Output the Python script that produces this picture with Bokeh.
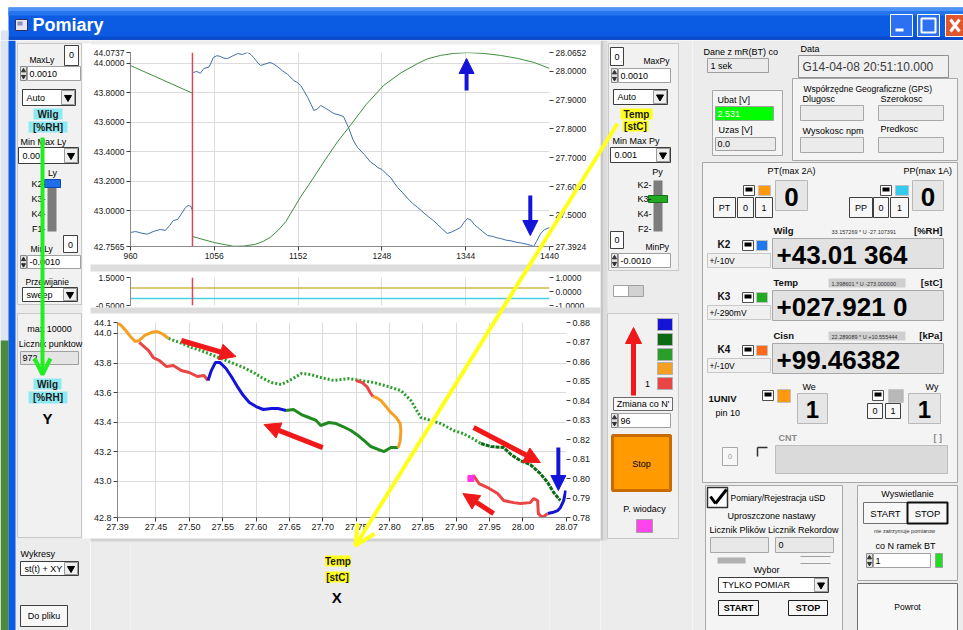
from bokeh.plotting import figure
from bokeh.layouts import row, column
from bokeh.models import (Range1d, LinearAxis, FixedTicker, PrintfTickFormatter, Arrow,
                          NormalHead, OpenHead, Span, ColumnDataSource)
from bokeh.embed import file_html
from bokeh.resources import INLINE

FONT = "Liberation Sans"
BG = "#ECECEC"

# ------------------------------------------------------------------ data
# top chart: sweep display, cursor at sample 1031
t_ticks = [960, 1056, 1152, 1248, 1344, 1440]
wilg_ticks = [42.7565, 43.0, 43.2, 43.4, 43.6, 43.8, 44.0, 44.0737]
temp_ticks = [27.3924, 27.5, 27.6, 27.7, 27.8, 27.9, 28.0, 28.0652]
sweep_pos = 1031

wilg_new_x = [960, 966, 972, 979, 986, 994, 1000, 1005, 1009, 1014, 1018, 1023, 1026, 1029, 1031]
wilg_new_y = [42.852, 42.858, 42.848, 42.840, 42.858, 42.872, 42.866, 42.900, 42.933, 42.940,
              42.975, 43.021, 43.035, 43.030, 43.001]
wilg_old_x = [1032, 1036, 1040, 1044, 1050, 1055, 1059, 1063, 1067, 1071, 1077, 1083, 1088, 1094,
              1098, 1101, 1105, 1109, 1114, 1120, 1124, 1128, 1134, 1140, 1147, 1151, 1155, 1159,
              1163, 1167, 1170, 1174, 1178, 1185, 1193, 1199, 1204, 1210, 1215, 1220, 1228, 1235,
              1240, 1243, 1248, 1252, 1258, 1262, 1266, 1272, 1278, 1283, 1289, 1295, 1301, 1307,
              1313, 1318, 1323, 1328, 1333, 1338, 1342, 1346, 1350, 1354, 1358, 1363, 1369, 1375,
              1380, 1384, 1390, 1396, 1403, 1408, 1414, 1418, 1422, 1425, 1430, 1434, 1440]
wilg_old_y = [43.938, 43.945, 43.932, 43.965, 43.975, 44.040, 44.052, 44.047, 44.035, 44.033,
              44.050, 44.067, 44.060, 44.074, 44.060, 44.040, 44.010, 43.985, 43.995, 44.006,
              43.995, 43.979, 43.950, 43.925, 43.884, 43.870, 43.850, 43.810, 43.768, 43.720,
              43.680, 43.690, 43.714, 43.690, 43.659, 43.650, 43.639, 43.560, 43.480, 43.429,
              43.380, 43.330, 43.310, 43.293, 43.280, 43.255, 43.225, 43.190, 43.157, 43.120,
              43.080, 43.050, 43.021, 42.990, 42.960, 42.933, 42.900, 42.870, 42.845, 42.855,
              42.870, 42.885, 42.920, 42.947, 42.935, 42.905, 42.885, 42.860, 42.831, 42.825,
              42.815, 42.811, 42.800, 42.795, 42.784, 42.780, 42.772, 42.765, 42.757, 42.790,
              42.845, 42.870, 42.885]
temp_new_x = [960, 1031]
temp_new_y = [28.020, 27.924]
temp_old_x = [1031, 1056, 1078, 1090, 1103, 1112, 1120, 1129, 1138, 1146, 1155, 1169, 1183, 1197,
              1212, 1230, 1250, 1270, 1289, 1300, 1315, 1330, 1346, 1365, 1384, 1403, 1422, 1440]
temp_old_y = [27.427, 27.406, 27.393, 27.394, 27.400, 27.410, 27.424, 27.448, 27.479, 27.520,
              27.565, 27.628, 27.693, 27.755, 27.813, 27.885, 27.951, 27.995, 28.027, 28.043,
              28.055, 28.062, 28.065, 28.062, 28.055, 28.045, 28.031, 28.010]

# strip chart levels
strip_ticks_l = [-0.5, 1.5]
strip_ticks_r = [-1.0, 0.0, 1.0]
strip_level_yellow = 0.75
strip_level_cyan = 0.0

# XY chart (x = Temp [stC], y = Wilg [%RH])
xy_t_ticks = [27.3924, 27.45, 27.50, 27.55, 27.60, 27.65, 27.70, 27.75, 27.80, 27.85, 27.90,
              27.95, 28.00, 28.0652]
xy_w_ticks = [42.7565, 43.0, 43.2, 43.4, 43.6, 43.8, 44.0, 44.0737]
xy_r_ticks = [0.78, 0.79, 0.80, 0.81, 0.82, 0.83, 0.84, 0.85, 0.86, 0.87, 0.88]

orange_a_t = [27.392, 27.398, 27.406, 27.413, 27.419, 27.425, 27.433, 27.443, 27.452, 27.461, 27.469]
orange_a_w = [44.074, 44.053, 44.013, 43.972, 43.945, 43.952, 43.986, 44.006, 44.013, 43.993, 43.966]
red_a_t = [27.425, 27.439, 27.446, 27.455, 27.466, 27.476, 27.488, 27.500, 27.512, 27.522, 27.528]
red_a_w = [43.939, 43.884, 43.837, 43.817, 43.776, 43.783, 43.749, 43.736, 43.709, 43.716, 43.682]
blue_a_t = [27.528, 27.533, 27.539, 27.546, 27.555, 27.563, 27.572, 27.581, 27.590, 27.600,
            27.611, 27.623, 27.633, 27.645]
blue_a_w = [43.682, 43.749, 43.803, 43.803, 43.763, 43.709, 43.641, 43.580, 43.533, 43.506,
            43.486, 43.493, 43.493, 43.479]
dkgreen_a_t = [27.645, 27.656, 27.668, 27.679, 27.690, 27.697, 27.709, 27.720, 27.730, 27.742,
               27.753, 27.762, 27.772, 27.783, 27.792, 27.802, 27.813]
dkgreen_a_w = [43.479, 43.486, 43.452, 43.432, 43.412, 43.378, 43.398, 43.391, 43.371, 43.344,
               43.310, 43.276, 43.236, 43.216, 43.202, 43.229, 43.229]
orange_b_t = [27.813, 27.816, 27.817, 27.816, 27.810, 27.802, 27.796, 27.787, 27.780, 27.775]
orange_b_w = [43.229, 43.276, 43.344, 43.391, 43.432, 43.466, 43.499, 43.547, 43.567, 43.574]
red_b_t = [27.775, 27.771, 27.766, 27.759, 27.750]
red_b_w = [43.574, 43.601, 43.641, 43.668, 43.682]
green_dots_t = [27.469, 27.485, 27.503, 27.518, 27.536, 27.551, 27.566, 27.581, 27.596, 27.611,
                27.623, 27.638, 27.653, 27.668, 27.682, 27.697, 27.717, 27.738, 27.757, 27.777,
                27.798, 27.817, 27.832, 27.847, 27.862, 27.877, 27.896, 27.910, 27.922, 27.937]
green_dots_w = [43.966, 43.939, 43.905, 43.884, 43.851, 43.824, 43.797, 43.770, 43.736, 43.695,
                43.668, 43.655, 43.689, 43.729, 43.722, 43.702, 43.682, 43.695, 43.682, 43.668,
                43.641, 43.614, 43.547, 43.432, 43.412, 43.391, 43.344, 43.324, 43.297, 43.256]
dkgreen_dots_t = [27.937, 27.952, 27.971, 27.982, 27.996, 28.011, 28.026, 28.037, 28.046, 28.056]
dkgreen_dots_w = [43.256, 43.236, 43.229, 43.182, 43.141, 43.114, 43.053, 42.993, 42.925, 42.871]
blue_b_t = [28.037, 28.044, 28.052, 28.056, 28.061, 28.064]
blue_b_w = [42.783, 42.790, 42.803, 42.823, 42.871, 42.939]
red_c_t = [27.922, 27.926, 27.934, 27.947, 27.962, 27.971, 27.986, 27.996, 28.011, 28.016,
           28.022, 28.023, 28.029, 28.037]
red_c_w = [43.020, 43.040, 42.986, 42.959, 42.918, 42.871, 42.857, 42.851, 42.857, 42.885,
           42.871, 42.783, 42.756, 42.783]
lead_t = [27.922]
lead_w = [43.020]

# direction arrows in the XY chart (start T, start W, end T, end W)
red_arrow_t0 = [27.488, 27.700, 27.926, 27.956]
red_arrow_w0 = [43.952, 43.229, 43.364, 42.783]
red_arrow_t1 = [27.570, 27.612, 28.026, 27.910]
red_arrow_w1 = [43.844, 43.384, 43.128, 42.918]

C_BLUE, C_DKGREEN, C_GREEN, C_ORANGE, C_RED = "#1414D8", "#0B6A12", "#2A9E2A", "#F5A023", "#EA4545"
YELLOW, LGREEN = "#FFFF1E", "#22EE22"


# ------------------------------------------------------------------ helpers
class Panel:
    def __init__(self, x0, x1, y0, y1, bg=BG):
        self.p = figure(width=x1 - x0, height=y1 - y0, x_range=Range1d(x0, x1),
                        y_range=Range1d(y1, y0), x_axis_location=None, y_axis_location=None,
                        toolbar_location=None, output_backend="svg", min_border=0,
                        outline_line_color=None, background_fill_color=bg, border_fill_color=bg)
        self.p.grid.visible = False
        self.R = {k: [] for k in ("l", "r", "t", "b", "fc", "fa", "lc", "la", "lw")}
        self.T = {k: [] for k in ("x", "y", "s", "fs", "st", "c", "al", "f")}
        self.M = {k: [] for k in ("x", "y", "m", "sz", "c")}
        self.S = {k: [] for k in ("x0", "y0", "x1", "y1", "c", "w")}

    def box(self, x0, y0, x1, y1, fc, lc=None, lw=1):
        R = self.R
        R["l"].append(x0); R["r"].append(x1); R["t"].append(y0); R["b"].append(y1)
        R["fc"].append(fc or "#000000"); R["fa"].append(1 if fc else 0)
        R["lc"].append(lc or "#000000"); R["la"].append(1 if lc else 0); R["lw"].append(lw)

    def text(self, x, y, s, fs=9, c="#000000", bold=False, al="left", f=FONT):
        T = self.T
        T["x"].append(x); T["y"].append(y); T["s"].append(s); T["fs"].append("%gpx" % fs)
        T["st"].append("bold" if bold else "normal"); T["c"].append(c); T["al"].append(al)
        T["f"].append(f)

    def mark(self, x, y, m, sz, c="#000000"):
        M = self.M
        M["x"].append(x); M["y"].append(y); M["m"].append(m); M["sz"].append(sz); M["c"].append(c)

    def seg(self, x0, y0, x1, y1, c="#000000", w=1):
        S = self.S
        S["x0"].append(x0); S["y0"].append(y0); S["x1"].append(x1); S["y1"].append(y1)
        S["c"].append(c); S["w"].append(w)

    def spin(self, x0, y0, x1, y1, label):
        self.box(x0, y0, x0 + 6, y1, "#E2E2E2", "#8A8A8A")
        self.mark(x0 + 3, y0 + (y1 - y0) * 0.3, "triangle", 4, "#303030")
        self.mark(x0 + 3, y0 + (y1 - y0) * 0.72, "inverted_triangle", 4, "#303030")
        self.box(x0 + 7, y0, x1, y1, "#FFFFFF", "#A0A0A0")
        self.text(x0 + 9, (y0 + y1) / 2, label, 9)

    def dropdown(self, x0, y0, x1, y1, label):
        self.box(x0, y0, x1, y1, "#FFFFFF", "#3C3C3C")
        self.box(x1 - 14, y0 + 1, x1 - 1, y1 - 1, "#EEEEEE", "#9A9A9A")
        self.mark(x1 - 7.5, (y0 + y1) / 2, "inverted_triangle", 7, "#000000")
        self.text(x0 + 4, (y0 + y1) / 2, label, 9)

    def button(self, x0, y0, x1, y1, label, fs=9, bold=False, lc="#6A6A6A", lw=1, tc="#000000"):
        self.box(x0, y0, x1, y1, "#F7F7F7", lc, lw)
        self.text((x0 + x1) / 2, (y0 + y1) / 2, label, fs, tc, bold, "center")

    def chk(self, x0, y0):
        self.box(x0, y0, x0 + 11, y0 + 10, "#FFFFFF", "#505050")
        self.box(x0 + 2, y0 + 2, x0 + 9, y0 + 6, "#000000")

    def flush(self):
        p = self.p
        if self.R["l"]:
            p.quad(left="l", right="r", top="t", bottom="b", fill_color="fc", fill_alpha="fa",
                   line_color="lc", line_alpha="la", line_width="lw",
                   source=ColumnDataSource(self.R))
        if self.S["x0"]:
            p.segment(x0="x0", y0="y0", x1="x1", y1="y1", line_color="c", line_width="w",
                      source=ColumnDataSource(self.S))
        if self.M["x"]:
            p.scatter(x="x", y="y", marker="m", size="sz", fill_color="c", line_color="c",
                      source=ColumnDataSource(self.M))
        if self.T["x"]:
            p.text(x="x", y="y", text="s", text_font_size="fs", text_font_style="st",
                   text_color="c", text_align="al", text_font="f", text_baseline="middle",
                   source=ColumnDataSource(self.T))
        return p


def style_axis(ax, fs="8.5px"):
    ax.major_label_text_font = FONT
    ax.major_label_text_font_size = fs
    ax.major_label_text_color = "#202020"
    ax.axis_line_color = "#8C8C8C"
    ax.major_tick_line_color = "#404040"
    ax.major_tick_out = 4
    ax.major_tick_in = 0
    ax.minor_tick_line_color = None
    ax.major_label_standoff = 2


# ------------------------------------------------------------------ title bar
tb = Panel(0, 963, 0, 40, bg="#FFFFFF")
tb.box(8, 7, 963, 40, "#0B5BE3")
tb.box(8, 7, 963, 11, "#4B93F6")
tb.box(8, 11, 963, 15, "#2474EE")
tb.box(8, 36, 963, 40, "#0A4CCB")
tb.box(0, 30, 8, 40, "#DDE6F0")
tb.box(15, 19, 27, 30, "#E6E6EE", "#303060")
tb.box(17, 21, 22, 25, "#8E8EC0")
tb.text(32, 24, "Pomiary", 18, "#FFFFFF", True)
tb.box(890, 14, 912, 36, "#2D70F2", "#FFFFFF", 1)
tb.box(895, 28, 903, 31, "#FFFFFF")
tb.box(917, 14, 939, 36, "#2D70F2", "#FFFFFF", 1)
tb.box(921, 18, 935, 32, None, "#FFFFFF", 2)
tb.box(945, 14, 967, 36, "#E2562E", "#FFFFFF", 1)
tb.seg(950, 19, 959, 31, "#FFFFFF", 3)
tb.seg(959, 19, 950, 31, "#FFFFFF", 3)
tb.flush()

# ------------------------------------------------------------------ left panel
lp = Panel(0, 90, 40, 630)
lp.box(0, 40, 8, 340, "#DDE6F0")
lp.box(0, 340, 8, 630, "#4A8A3A")
lp.box(8, 40, 15, 630, "#0B5BE3")
lp.box(82, 43, 90, 538, "#FFFFFF")
lp.box(17, 43, 81, 304, "#F1F1F1", "#C8C8C8")
lp.text(29, 59, "MaxLy", 8.5)
lp.box(64, 45, 78, 65, "#FFFFFF", "#404040")
lp.text(71, 54, "0", 9, al="center")
lp.spin(20, 66, 80, 80, "0.0010")
lp.dropdown(22, 89, 75, 105, "Auto")
lp.box(33, 108, 62, 119, "#8EEAF2")
lp.text(47.5, 113.5, "Wilg", 10, "#1A1A1A", True, "center")
lp.box(28, 121, 67, 132, "#8EEAF2")
lp.text(47.5, 126.5, "[%RH]", 10, "#1A1A1A", True, "center")
lp.text(20, 141, "Min Max Ly", 9)
lp.dropdown(18, 147, 78, 163, "0.00")
lp.text(52, 172, "Ly", 9, al="center")
for lab, yy in (("K2-", 183), ("K3-", 198), ("K4-", 213), ("F1-", 228)):
    lp.text(45, yy, lab, 9, al="right")
lp.box(47, 180, 56, 231, "#7C7C7C")
lp.box(44, 179, 60, 187, "#1E6FE8", "#0D47B0")
lp.box(63, 235, 77, 252, "#FFFFFF", "#404040")
lp.text(70, 244, "0", 9, al="center")
lp.text(30, 248, "MinLy", 8.5)
lp.spin(20, 255, 80, 268, "-0.0010")
lp.text(25, 281, "Przewijanie", 8.5)
lp.dropdown(22, 287, 77, 301, "sweep")
lp.box(17, 313, 81, 537, "#F1F1F1", "#C8C8C8")
lp.text(49, 328, "max 10000", 9, al="center")
lp.text(50, 343, "Licznik punktow", 9, al="center")
lp.box(20, 351, 78, 364, "#E4E4E4", "#A0A0A0")
lp.text(22, 357.5, "972", 9)
lp.box(33, 378, 61, 389, "#8EEAF2")
lp.text(47, 383.5, "Wilg", 10, "#1A1A1A", True, "center")
lp.box(28, 391, 67, 403, "#8EEAF2")
lp.text(47.5, 397, "[%RH]", 10, "#1A1A1A", True, "center")
lp.text(47, 418, "Y", 15, "#000000", True, "center")
lp.text(20, 553, "Wykresy", 9)
lp.dropdown(20, 561, 78, 575, "st(t) + XY")
lp.button(20, 605, 67, 626, "Do pliku", 9, lc="#404040")
lp.flush()

# ------------------------------------------------------------------ top chart
pt = figure(width=510, height=226, x_range=Range1d(960, 1440), y_range=Range1d(42.7565, 44.0737),
            output_backend="svg", toolbar_location=None, min_border_left=39, min_border_right=51,
            min_border_top=12, min_border_bottom=20, background_fill_color="#FFFFFF",
            border_fill_color="#FFFFFF", outline_line_color=None)
pt.extra_y_ranges = {"temp": Range1d(27.3924, 28.0652)}
pt.xaxis.ticker = FixedTicker(ticks=t_ticks)
pt.xaxis.formatter = PrintfTickFormatter(format="%d")
pt.yaxis.ticker = FixedTicker(ticks=wilg_ticks)
pt.yaxis.formatter = PrintfTickFormatter(format="%.4f")
ax_r = LinearAxis(y_range_name="temp", ticker=FixedTicker(ticks=temp_ticks),
                  formatter=PrintfTickFormatter(format="%.4f"))
pt.add_layout(ax_r, "right")
for ax in (pt.xaxis[0], pt.yaxis[0], ax_r):
    style_axis(ax)
ax_r.axis_line_color = None
pt.grid.grid_line_color = "#DCDCDC"
pt.line(wilg_old_x, wilg_old_y, line_color="#3F6FA8", line_width=1)
pt.line(wilg_new_x, wilg_new_y, line_color="#3F6FA8", line_width=1)
pt.line(temp_old_x, temp_old_y, y_range_name="temp", line_color="#3E8E3E", line_width=1)
pt.line(temp_new_x, temp_new_y, y_range_name="temp", line_color="#3E8E3E", line_width=1)
pt.add_layout(Span(location=sweep_pos, dimension="height", line_color="#D44A5A", line_width=1.5))
for xs, w0, w1 in ((1345, 43.816, 44.033), (1418, 43.103, 42.831)):
    pt.add_layout(Arrow(end=NormalHead(size=15, fill_color=C_BLUE, line_color=C_BLUE),
                        x_start=xs, y_start=w0, x_end=xs, y_end=w1,
                        line_color=C_BLUE, line_width=4))

# ------------------------------------------------------------------ strip chart
ps = figure(width=510, height=47, x_range=Range1d(960, 1440), y_range=Range1d(-0.5, 1.5),
            x_axis_location=None, output_backend="svg", toolbar_location=None,
            min_border_left=39, min_border_right=51, min_border_top=11, min_border_bottom=8,
            background_fill_color="#FFFFFF", border_fill_color="#FFFFFF", outline_line_color=None)
ps.extra_y_ranges = {"r": Range1d(-1, 1)}
ps.yaxis.ticker = FixedTicker(ticks=strip_ticks_l)
ps.yaxis.formatter = PrintfTickFormatter(format="%.4f")
ax_sr = LinearAxis(y_range_name="r", ticker=FixedTicker(ticks=strip_ticks_r),
                   formatter=PrintfTickFormatter(format="%.4f"))
ps.add_layout(ax_sr, "right")
style_axis(ps.yaxis[0]); style_axis(ax_sr)
ax_sr.axis_line_color = None
ps.xgrid.ticker = FixedTicker(ticks=t_ticks)
ps.xgrid.grid_line_color = "#DCDCDC"
ps.ygrid.visible = False
ps.add_layout(Span(location=strip_level_yellow, dimension="width", line_color="#D2B84A", line_width=1.5))
ps.add_layout(Span(location=strip_level_cyan, dimension="width", line_color="#48CFE0", line_width=1.5))
ps.add_layout(Span(location=sweep_pos, dimension="height", line_color="#D44A5A", line_width=1.5))

# ------------------------------------------------------------------ XY chart
px = figure(width=510, height=227, x_range=Range1d(27.3924, 28.0652),
            y_range=Range1d(42.7565, 44.0737), output_backend="svg", toolbar_location=None,
            min_border_left=26, min_border_right=34, min_border_top=9, min_border_bottom=23,
            background_fill_color="#FFFFFF", border_fill_color="#FFFFFF", outline_line_color=None)
px.extra_y_ranges = {"r": Range1d(0.78, 0.88)}
px.xaxis.ticker = FixedTicker(ticks=xy_t_ticks)
px.xaxis.formatter = PrintfTickFormatter(format="%.2f")
px.yaxis.ticker = FixedTicker(ticks=xy_w_ticks)
px.yaxis.formatter = PrintfTickFormatter(format="%.1f")
ax_xr = LinearAxis(y_range_name="r", ticker=FixedTicker(ticks=xy_r_ticks),
                   formatter=PrintfTickFormatter(format="%.2f"))
px.add_layout(ax_xr, "right")
for ax in (px.xaxis[0], px.yaxis[0], ax_xr):
    style_axis(ax, "9px")
ax_xr.axis_line_color = None
px.grid.grid_line_color = "#DCDCDC"
px.line(green_dots_t, green_dots_w, line_color=C_GREEN, line_width=3, line_dash="2 2")
px.line(dkgreen_dots_t, dkgreen_dots_w, line_color=C_DKGREEN, line_width=3, line_dash="4 1")
for ts, ws, col in ((orange_a_t, orange_a_w, C_ORANGE), (red_a_t, red_a_w, C_RED),
                    (blue_a_t, blue_a_w, C_BLUE), (dkgreen_a_t, dkgreen_a_w, "#208A20"),
                    (orange_b_t, orange_b_w, C_ORANGE), (red_b_t, red_b_w, C_RED),
                    (blue_b_t, blue_b_w, C_BLUE), (red_c_t, red_c_w, C_RED)):
    px.line(ts, ws, line_color=col, line_width=3)
px.scatter(lead_t, lead_w, marker="square", size=6, color="#FF33EE")
for a0, b0, a1, b1 in zip(red_arrow_t0, red_arrow_w0, red_arrow_t1, red_arrow_w1):
    px.add_layout(Arrow(end=NormalHead(size=16, fill_color="#F01818", line_color="#F01818"),
                        x_start=a0, y_start=b0, x_end=a1, y_end=b1,
                        line_color="#F01818", line_width=5))
px.add_layout(Arrow(end=NormalHead(size=15, fill_color=C_BLUE, line_color=C_BLUE),
                    x_start=28.053, y_start=43.229, x_end=28.053, y_end=42.939,
                    line_color=C_BLUE, line_width=4))

# ------------------------------------------------------------------ below the charts
bp = Panel(90, 600, 540, 630)
bp.box(327, 555, 358, 566, YELLOW)
bp.text(342.5, 560.5, "Temp", 10, "#1A1A1A", True, "center")
bp.box(327, 571, 357, 582, YELLOW)
bp.text(342, 576.5, "[stC]", 10, "#1A1A1A", True, "center")
bp.text(341, 597, "X", 15, "#000000", True, "center")
bp.flush()

# ------------------------------------------------------------------ right axis controls
sp = Panel(600, 692, 40, 630)
sp.box(600, 40, 603, 540, "#C6C6C6")
sp.box(603, 40, 607, 540, "#DCDCDC")
sp.box(608, 43, 678, 270, "#F1F1F1", "#C8C8C8")
sp.box(610, 47, 623, 65, "#FFFFFF", "#404040")
sp.text(616.5, 56, "0", 9, al="center")
sp.text(643, 60, "MaxPy", 8.5)
sp.spin(611, 68, 670, 82, "0.0010")
sp.dropdown(613, 89, 667, 104, "Auto")
sp.box(620, 108, 652, 119, YELLOW)
sp.text(636, 113.5, "Temp", 10, "#1A1A1A", True, "center")
sp.box(622, 120, 648, 131, YELLOW)
sp.text(635, 125.5, "[stC]", 10, "#1A1A1A", True, "center")
sp.text(612, 140, "Min Max Py", 9)
sp.dropdown(610, 147, 670, 162, "0.001")
sp.text(657, 171, "Py", 9, al="center")
for lab, yy in (("K2-", 184), ("K3-", 198), ("K4-", 213), ("F2-", 228)):
    sp.text(651, yy, lab, 9, al="right")
sp.box(653, 180, 662, 231, "#7C7C7C")
sp.box(648, 195, 667, 202, "#22AA22", "#137313")
sp.box(610, 231, 623, 248, "#FFFFFF", "#404040")
sp.text(616.5, 239.5, "0", 9, al="center")
sp.text(645, 246, "MinPy", 8.5)
sp.spin(611, 253, 670, 267, "-0.0010")
sp.box(613, 285, 628, 296, "#FFFFFF", "#A0A0A0")
sp.box(628, 285, 643, 296, "#D2D2D2", "#A0A0A0")
sp.box(607, 313, 678, 538, "#F1F1F1", "#C8C8C8")
for col, y0 in ((C_BLUE, 318), (C_DKGREEN, 333), (C_GREEN, 348), (C_ORANGE, 362), (C_RED, 377)):
    sp.box(657, y0, 672, y0 + 12, col, "#B0B0B0")
sp.text(647, 383, "1", 9, al="center")
sp.button(613, 397, 672, 410, "Zmiana co N'", 9)
sp.spin(611, 413, 670, 427, "96")
sp.box(612, 435, 670, 490, "#FF9A00", "#C86C00", 3)
sp.text(641, 463, "Stop", 9, al="center")
sp.text(644, 508, "P. wiodacy", 9, al="center")
sp.box(636, 519, 652, 532, "#FF44EE", "#A0A0A0")
sp.flush()
sp.p.add_layout(Arrow(end=NormalHead(size=16, fill_color="#F01818", line_color="#F01818"),
                      x_start=633, y_start=395, x_end=633, y_end=327,
                      line_color="#F01818", line_width=5))

# ------------------------------------------------------------------ right instrument panel
rp = Panel(692, 963, 40, 630)
rp.text(703, 51, "Dane z mR(BT) co", 9)
rp.box(707, 58, 768, 72, "#EBEBEB", "#A0A0A0")
rp.text(710, 65, "1 sek", 9)
rp.text(800, 48, "Data", 9)
rp.box(798, 55, 948, 77, "#F0F0F0", "#909090")
rp.text(802, 66.5, "G14-04-08 20:51:10.000", 12, "#3C3C3C")
rp.box(712, 90, 782, 155, "#F4F4F4", "#A8A8A8")
rp.text(717, 99, "Ubat [V]", 9)
rp.box(715, 106, 773, 120, "#00FF00", "#A0A0A0")
rp.text(717, 113, "2.531", 9, "#FFFFFF")
rp.text(718, 129, "Uzas [V]", 9)
rp.box(715, 137, 775, 150, "#EBEBEB", "#A0A0A0")
rp.text(717, 143.5, "0.0", 9)
rp.box(792, 78, 957, 160, "#F4F4F4", "#A8A8A8")
rp.text(803, 88, "Współrzędne Geograficzne (GPS)", 8.5)
rp.text(802, 98, "Dlugosc", 9)
rp.text(880, 98, "Szerokosc", 9)
rp.box(800, 105, 863, 120, "#EBEBEB", "#A8A8A8")
rp.box(878, 105, 943, 120, "#EBEBEB", "#A8A8A8")
rp.text(802, 130, "Wysokosc npm", 9)
rp.text(880, 128, "Predkosc", 9)
rp.box(800, 137, 863, 152, "#EBEBEB", "#A8A8A8")
rp.box(878, 137, 943, 152, "#EBEBEB", "#A8A8A8")
rp.box(702, 162, 957, 482, "#F4F4F4", "#A8A8A8")
rp.text(767, 170, "PT(max 2A)", 9)
rp.text(903, 170, "PP(max 1A)", 9)
rp.chk(743, 185)
rp.box(758, 185, 770, 195, "#FF9A10", "#C0C0C0")
rp.box(775, 180, 807, 210, "#E6E6E6", "#B8B8B8")
rp.text(791, 196, "0", 26, "#000000", True, "center")
rp.button(713, 197, 735, 217, "PT", 9, lc="#404040")
rp.button(737, 197, 753, 217, "0", 9, lc="#404040")
rp.button(755, 197, 772, 217, "1", 9, lc="#404040")
rp.chk(880, 185)
rp.box(895, 185, 908, 195, "#33CCEE", "#C0C0C0")
rp.box(912, 180, 943, 210, "#E6E6E6", "#B8B8B8")
rp.text(927.5, 196, "0", 26, "#000000", True, "center")
rp.button(849, 197, 872, 217, "PP", 9, lc="#404040")
rp.button(873, 197, 888, 217, "0", 9, lc="#404040")
rp.button(890, 197, 908, 217, "1", 9, lc="#404040")
channels = (("Wilg", "33.157269 * U -27.107391", "[%RH]", "K2", "#1E78F0", "+/-10V", "+43.01 364", 230, False),
            ("Temp", "1.398601 * U -273.000000", "[stC]", "K3", "#22AA22", "+/-290mV", "+027.921 0", 282, True),
            ("Cisn", "22.289089 * U +10.555444", "[kPa]", "K4", "#FF6A1A", "+/-10V", "+99.46382", 335, True))
for name, formula, unit, kk, col, rng, val, yl, shaded in channels:
    rp.text(773, yl, name, 9.5, "#101010", True)
    if shaded:
        rp.box(828, yl - 4, 905, yl + 5, "#CFCFCF")
    rp.text(831, yl + 1, formula, 5.5, "#303030")
    rp.text(942, yl, unit, 9.5, "#101010", True, "right")
    rp.text(717, yl + 14, kk, 10, "#101010", True)
    rp.chk(742, yl + 10)
    rp.box(756, yl + 10, 767, yl + 20, col, "#C0C0C0")
    rp.box(707, yl + 23, 770, yl + 37, "#F0F0F0", "#C8C8C8")
    rp.text(709, yl + 30, rng, 8.5)
    rp.box(772, yl + 8, 943, yl + 38, "#E2E2E2", "#A8A8A8")
    rp.text(776, yl + 24, val, 26, "#000000", True)
rp.text(708, 398, "1UNIV", 9.5, "#101010", True)
rp.text(715, 412, "pin 10", 9)
rp.text(802, 386, "We", 9)
rp.chk(762, 390)
rp.box(777, 389, 790, 402, "#FF9A10", "#C0C0C0")
rp.box(797, 393, 827, 423, "#E6E6E6", "#B8B8B8")
rp.text(812, 409, "1", 24, "#000000", True, "center")
rp.text(925, 386, "Wy", 9)
rp.chk(872, 390)
rp.box(888, 389, 903, 402, "#B8B8B8", "#C8C8C8")
rp.button(867, 403, 882, 418, "0", 9, lc="#404040")
rp.button(885, 403, 900, 418, "1", 9, lc="#404040")
rp.box(908, 393, 940, 423, "#E6E6E6", "#B8B8B8")
rp.text(924, 409, "1", 24, "#000000", True, "center")
rp.text(778, 437, "CNT", 9, "#8A8A8A", True)
rp.text(933, 437, "[ ]", 9, "#8A8A8A", True)
rp.button(722, 447, 737, 465, "0", 8, lc="#A8A8A8", tc="#A0A0A0")
rp.seg(757, 447, 767, 447, "#303030", 1.5)
rp.seg(757, 447, 757, 456, "#303030", 1.5)
rp.box(775, 445, 947, 473, "#DADADA", "#BDBDBD")
rp.box(705, 485, 842, 630, "#F4F4F4", "#A8A8A8")
rp.box(707, 487, 727, 507, "#FFFFFF", "#303030", 1.5)
rp.seg(710, 496, 715, 503, "#000000", 3)
rp.seg(715, 503, 726, 489, "#000000", 3)
rp.text(730, 497, "Pomiary/Rejestracja uSD", 8.5)
rp.text(771, 515, "Uproszczone nastawy", 9, al="center")
rp.text(709, 529, "Licznik Plików Licznik Rekordow", 9)
rp.box(710, 537, 768, 552, "#E8E8E8", "#A8A8A8")
rp.box(775, 537, 833, 552, "#E8E8E8", "#A8A8A8")
rp.text(778, 544.5, "0", 9)
rp.box(717, 557, 745, 563, "#B0B0B0")
rp.seg(800, 556, 830, 556, "#A0A0A0", 1)
rp.seg(800, 563, 830, 563, "#A0A0A0", 1)
rp.text(766, 569, "Wybor", 9, al="center")
rp.dropdown(718, 577, 828, 592, "TYLKO POMIAR")
rp.button(718, 600, 758, 615, "START", 9, True, lc="#202020")
rp.button(788, 600, 827, 615, "STOP", 9, True, lc="#202020")
rp.box(857, 485, 957, 580, "#F4F4F4", "#A8A8A8")
rp.text(907, 493, "Wyswietlanie", 9, al="center")
rp.button(863, 502, 907, 523, "START", 9.5, lc="#707070")
rp.button(907, 502, 947, 523, "STOP", 9.5, lc="#101010", lw=2)
rp.text(904, 530, "nie zatrzymuje pomiarow", 5.5, "#303030", al="center")
rp.text(905, 545, "co N ramek BT", 9, al="center")
rp.spin(866, 553, 930, 567, "1")
rp.box(935, 553, 942, 567, "#22DD22", "#A0A0A0")
rp.button(857, 583, 957, 630, "Powrot", 8.5, lc="#707070")
rp.flush()

# ------------------------------------------------------------------ transparent overlay (page coordinates)
ov = Panel(0, 963, 0, 630, bg=None)
ov.box(90, 40, 600, 44, "#ECECEC")
ov.box(90, 264, 600, 271, "#DCDCDC")
ov.box(90, 307, 600, 313, "#DCDCDC")
ov.box(90, 538, 600, 541, "#D2D2D2")
ov.flush()
ov.p.add_layout(Arrow(end=OpenHead(size=20, line_color=YELLOW, line_width=4),
                      x_start=617, y_start=123, x_end=355, y_end=545,
                      line_color=YELLOW, line_width=4))
ov.p.add_layout(Arrow(end=OpenHead(size=16, line_color=LGREEN, line_width=4),
                      x_start=42, y_start=137, x_end=42, y_end=374,
                      line_color=LGREEN, line_width=4))
ov.p.margin = (-630, 0, 0, 0)

main = row(lp.p, column(pt, ps, row(px), bp.p), sp.p, rp.p)
layout = column(column(tb.p, main), ov.p)
open("out.html", "w").write(file_html(layout, INLINE))
